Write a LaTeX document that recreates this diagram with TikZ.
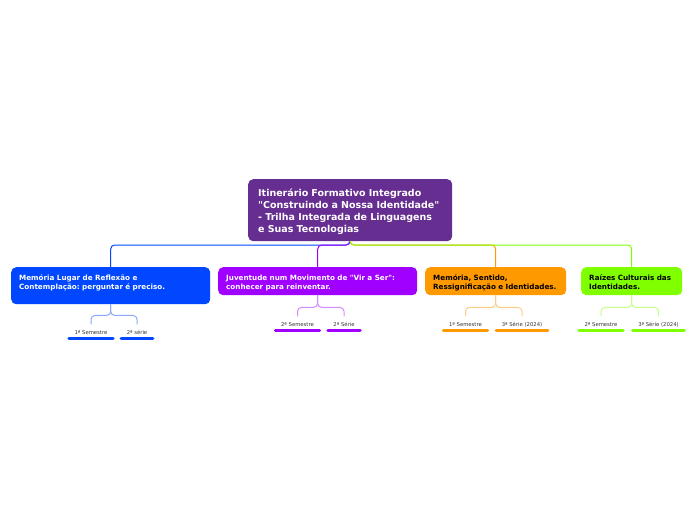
\documentclass[tikz,border=0pt]{standalone}
\usepackage{fontspec}
\setmainfont{DejaVu Sans}[Ligatures=TeXOff]
\frenchspacing
\definecolor{rootc}{HTML}{662E91}
\definecolor{cblue}{HTML}{0047FF}
\definecolor{cpurp}{HTML}{A000FF}
\definecolor{corng}{HTML}{FF9900}
\definecolor{cgren}{HTML}{80FF00}
\definecolor{lblue}{HTML}{8DA8FF}
\definecolor{lpurp}{HTML}{D28EFF}
\definecolor{lorng}{HTML}{FFCC88}
\definecolor{lgren}{HTML}{C5FF8A}
\definecolor{labc}{HTML}{333333}
\tikzset{
  rootbox/.style={anchor=north west, fill=rootc, rounded corners=5pt, text=white,
    font=\fontsize{9.5}{12}\selectfont\bfseries, align=left, inner xsep=10pt,
    text width=184pt, minimum height=62pt},
  childbox/.style={anchor=north west, rounded corners=5pt, fill=#1,
    font=\fontsize{7.2}{9}\selectfont\bfseries, align=left, inner xsep=8pt, minimum height=28pt},
  lab/.style={font=\fontsize{5.3}{6}\selectfont, text=labc, inner xsep=5.5pt, inner ysep=0pt, minimum height=14pt},
  conn/.style={line width=1pt, rounded corners=4pt},
  uline/.style={line width=3pt, line cap=round}
}
\begin{document}
\begin{tikzpicture}[x=1pt,y=-1pt]
\useasboundingbox (0,0) rectangle (696,520);
\fill[white] (0,0) rectangle (696,520);
% root
\node[rootbox] (root) at (248,179) {\rule{0pt}{11pt}Itinerário Formativo Integrado\\"Construindo a Nossa Identidade"\\- Trilha Integrada de Linguagens\\e Suas Tecnologias};
\coordinate (rb) at (350,241);
% children
\node[childbox=cblue, text=white, text width=183pt, minimum height=37pt] (c1) at (11,267) {\rule{0pt}{8.5pt}Memória Lugar de Reflexão e\\Contemplação: perguntar é preciso.\rule[-9pt]{0pt}{9pt}};
\node[childbox=cpurp, text=white, text width=183pt] (c2) at (218,267) {\rule{0pt}{8.5pt}Juventude num Movimento de "Vir a Ser":\\conhecer para reinventar.};
\node[childbox=corng, text=black, text width=125pt] (c3) at (425,267) {\rule{0pt}{8.5pt}Memória, Sentido,\\Ressignificação e Identidades.};
\node[childbox=cgren, text=black, text width=85pt] (c4) at (581,267) {\rule{0pt}{8.5pt}Raízes Culturais das\\Identidades.};
% top connectors
\draw[conn, cblue] (rb) -- ++(0,4) -| (c1.north);
\draw[conn, cpurp] (rb) -- ++(0,4) -| (c2.north);
\draw[conn, corng] (rb) -- ++(0,4) -| (c3.north);
\draw[conn, cgren] (rb) -- ++(0,4) -| (c4.north);
% labels
\node[lab] (a1) at (91,331.5) {\rule{0pt}{6pt}1ª Semestre};
\node[lab] (a2) at (137,331.5) {\rule{0pt}{6pt}2ª série};
\node[lab] (b1) at (297.5,323.5) {\rule{0pt}{6pt}2ª Semestre};
\node[lab] (b2) at (344,323.5) {\rule{0pt}{6pt}2ª Série};
\node[lab] (d1) at (465.5,323.5) {\rule{0pt}{6pt}1ª Semestre};
\node[lab] (d2) at (522,323.5) {\rule{0pt}{6pt}3ª Série (2024)};
\node[lab] (e1) at (601,323.5) {\rule{0pt}{6pt}2ª Semestre};
\node[lab] (e2) at (658.5,323.5) {\rule{0pt}{6pt}3ª Série (2024)};
% sub connectors
\draw[conn, lblue] (c1.south) -- ++(0,11) -| (a1.north);
\draw[conn, lblue] (c1.south) -- ++(0,11) -| (a2.north);
\draw[conn, lpurp] (c2.south) -- ++(0,12) -| (b1.north);
\draw[conn, lpurp] (c2.south) -- ++(0,12) -| (b2.north);
\draw[conn, lorng] (c3.south) -- ++(0,12) -| (d1.north);
\draw[conn, lorng] (c3.south) -- ++(0,12) -| (d2.north);
\draw[conn, lgren] (c4.south) -- ++(0,12) -| (e1.north);
\draw[conn, lgren] (c4.south) -- ++(0,12) -| (e2.north);
% underlines
\draw[uline, cblue] (a1.south west) -- (a1.south east);
\draw[uline, cblue] (a2.south west) -- (a2.south east);
\draw[uline, cpurp] (b1.south west) -- (b1.south east);
\draw[uline, cpurp] (b2.south west) -- (b2.south east);
\draw[uline, corng] (d1.south west) -- (d1.south east);
\draw[uline, corng] (d2.south west) -- (d2.south east);
\draw[uline, cgren] (e1.south west) -- (e1.south east);
\draw[uline, cgren] (e2.south west) -- (e2.south east);
\end{tikzpicture}
\end{document}
